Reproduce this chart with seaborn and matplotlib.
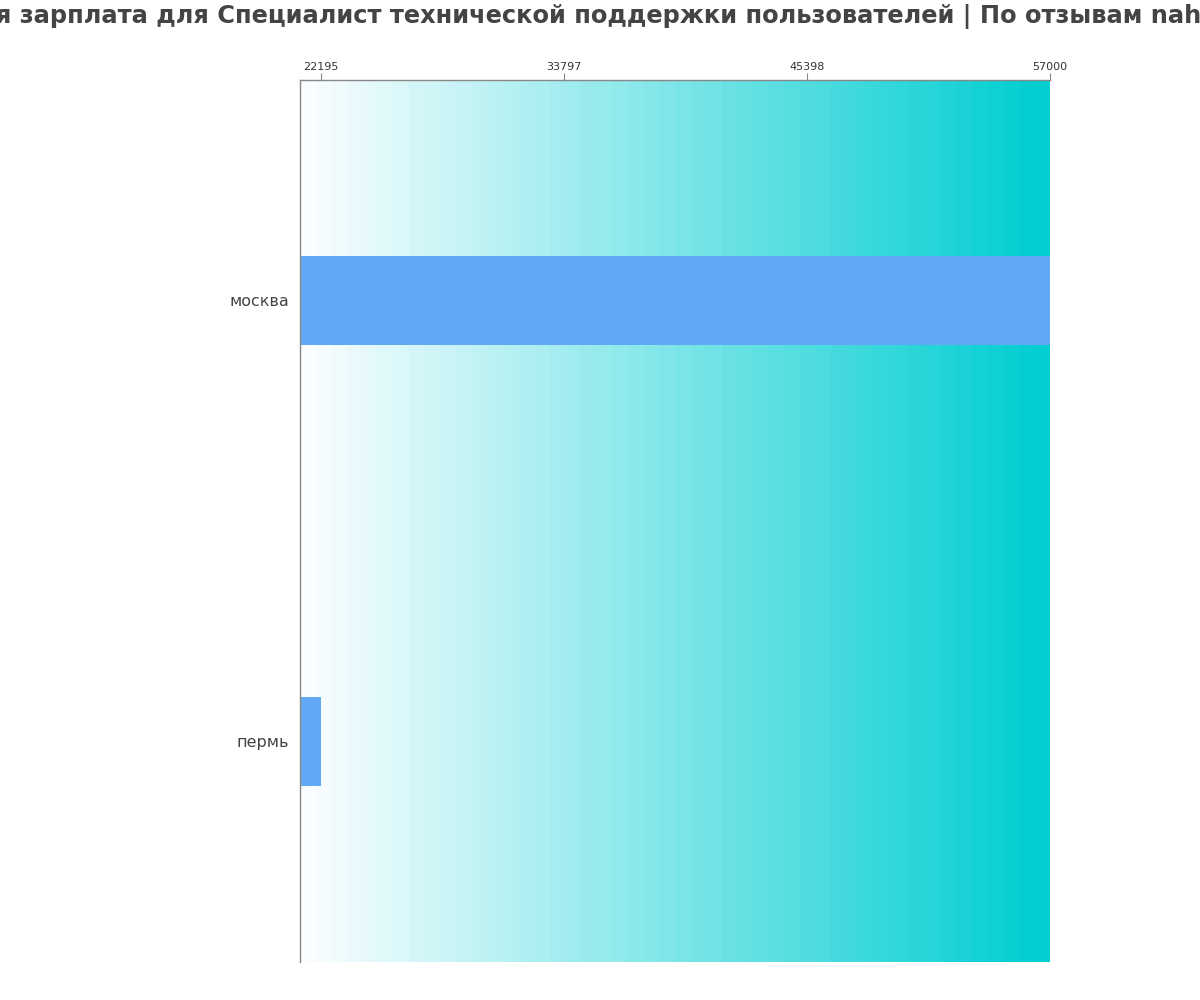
import numpy as np
import pandas as pd
import matplotlib
matplotlib.use("Agg")
import matplotlib.pyplot as plt
from matplotlib.colors import LinearSegmentedColormap
import seaborn as sns

cities = ["москва", "пермь"]
salaries = [57000, 22195]
title = "Средняя зарплата для Специалист технической поддержки пользователей | По отзывам nahjob.ru"

df = pd.DataFrame({"city": cities, "salary": salaries})

sns.set_style("white")
plt.rcParams['font.family'] = ['DejaVu Sans']

fig = plt.figure(figsize=(12, 10), dpi=100)
ax = fig.add_axes([0.25, 0.038, 0.625, 0.882])

x_min = min(salaries) * 0.955
x_max = max(salaries)

# gradient background
cmap = LinearSegmentedColormap.from_list("bg", ["#fafdff", "#00ced1"])
grad = np.linspace(0, 1, 48).reshape(1, -1)
ax.imshow(grad, aspect="auto", cmap=cmap, interpolation="nearest",
          extent=[x_min, x_max, 1.5, -0.5], zorder=0)

sns.barplot(data=df, x="salary", y="city", orient="h", color="#61a8f5",
            width=0.2, saturation=1, linewidth=0, ax=ax, zorder=2)

ax.set_xlim(x_min, x_max)
ax.set_ylim(1.5, -0.5)
ax.set_xlabel("")
ax.set_ylabel("")

ticks = np.linspace(min(salaries), max(salaries), 4)
ax.set_xticks(ticks)
ax.set_xticklabels([f"{int(round(t))}" for t in ticks], fontsize=8, color="#333333")
ax.xaxis.tick_top()
ax.tick_params(axis="x", top=True, bottom=False, length=5, color="#888888", pad=1)
ax.tick_params(axis="y", left=False, length=0, labelsize=11.5, labelcolor="#444444", pad=8)

for side in ["right", "bottom"]:
    ax.spines[side].set_visible(False)
for side in ["left", "top"]:
    ax.spines[side].set_color("#888888")
    ax.spines[side].set_linewidth(1)

fig.suptitle(title, fontsize=17.4, fontweight="bold", color="#444444", x=0.489, y=0.996)

fig.savefig("out.png", dpi=100)
